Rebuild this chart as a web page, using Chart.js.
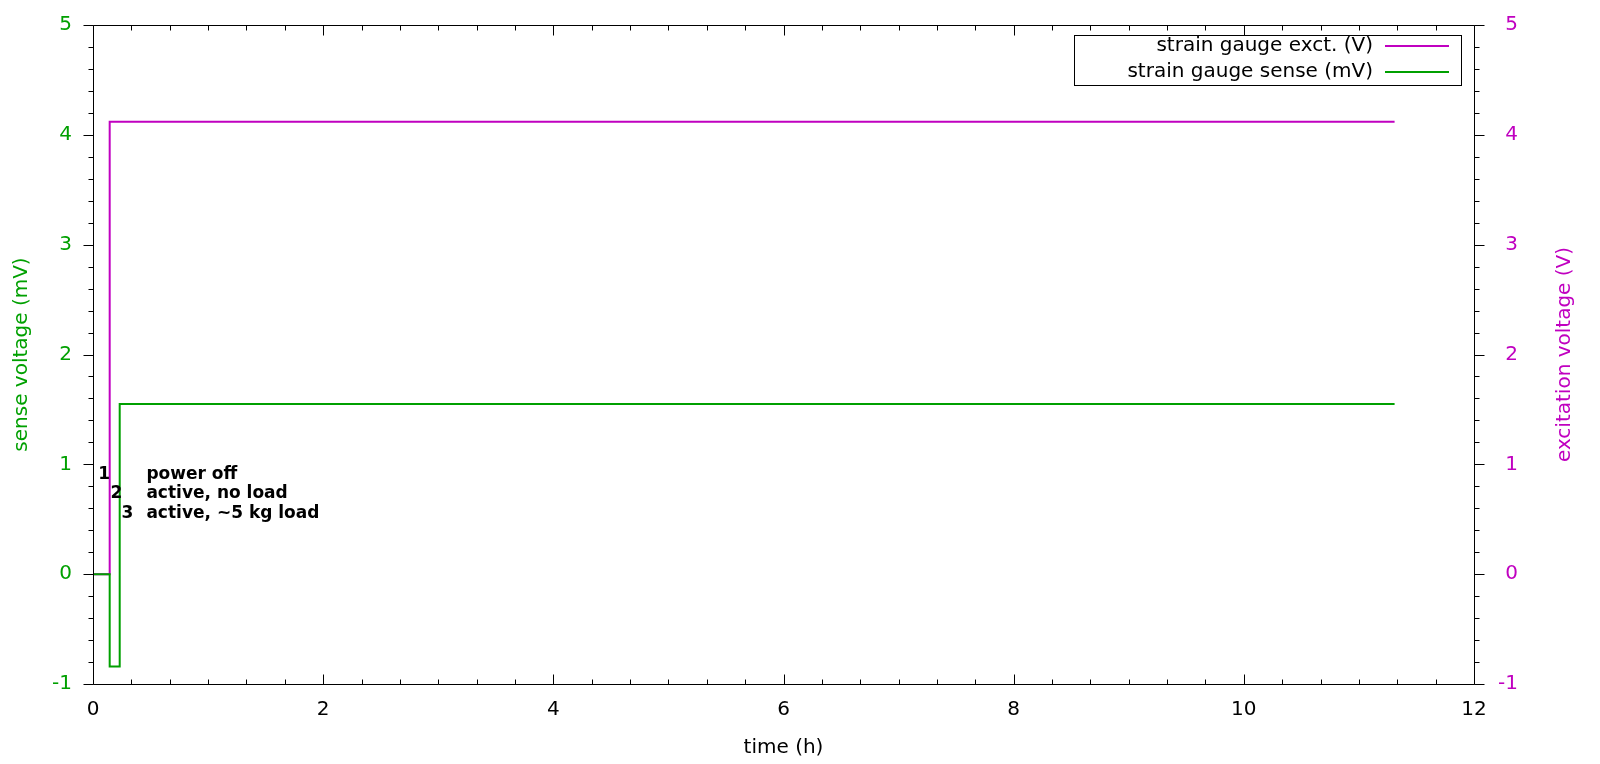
<!DOCTYPE html>
<html>
<head>
<meta charset="utf-8">
<script src="https://cdn.jsdelivr.net/npm/chart.js@4.4.1/dist/chart.umd.min.js"></script>
<style>
  html, body { margin: 0; padding: 0; background: #fff; }
  #wrap { width: 1600px; height: 764px; }
</style>
</head>
<body>
<div id="wrap"><canvas id="strainChart"></canvas></div>
<script>
// step traces (time in hours)
const senseTime = [0, 0.145, 0.232, 11.31];
const senseMv   = [0, -0.84, 1.55, 1.55];
const exctTime  = [0, 0.145, 11.31];
const exctV     = [0, 4.12, 4.12];

const xTicks  = [0, 2, 4, 6, 8, 10, 12];
const yTicks  = [-1, 0, 1, 2, 3, 4, 5];
const y2Ticks = [-1, 0, 1, 2, 3, 4, 5];

const noteNums  = ['1', '2', '3'];
const noteTexts = ['power off', 'active, no load', 'active, ~5 kg load'];

const GREEN = '#00a000';
const MAGENTA = '#c000c0';
const FONT = 'DejaVu Sans';

Chart.defaults.font.family = FONT;

// where the annotation labels sit (data coords)
const noteNumX = [0.097, 0.203, 0.299];
const noteRowY = [0.91, 0.73, 0.555];
const noteTextX = 0.464;

const framePlugin = {
  id: 'frame',
  afterDraw(chart) {
    const c = chart.ctx;
    const a = chart.chartArea;
    const xs = chart.scales.x, ys = chart.scales.y;
    const L = Math.round(a.left) + 0.5, R = Math.round(a.right) + 0.5;
    const T = Math.round(a.top) + 0.5, B = Math.round(a.bottom) + 0.5;
    c.save();
    c.strokeStyle = '#000';
    c.lineWidth = 1;
    c.beginPath();
    c.rect(L, T, R - L, B - T);
    // x ticks, inward, bottom and top
    for (let k = 0; k <= 36; k++) {
      const px = Math.round(xs.getPixelForValue(k / 3)) + 0.5;
      const len = k % 6 === 0 ? 10 : 5;
      c.moveTo(px, B); c.lineTo(px, B - len);
      c.moveTo(px, T); c.lineTo(px, T + len);
    }
    // y ticks, outward, left and right
    for (let k = 0; k <= 30; k++) {
      const py = Math.round(ys.getPixelForValue(-1 + k * 0.2)) + 0.5;
      const len = k % 5 === 0 ? 10 : 5;
      c.moveTo(L, py); c.lineTo(L - len, py);
      c.moveTo(R, py); c.lineTo(R + len, py);
    }
    c.stroke();

    // legend
    const bx = 1074.5, by = 35.5, bw = 387, bh = 50;
    c.fillStyle = '#fff';
    c.fillRect(bx, by, bw, bh);
    c.strokeRect(bx, by, bw, bh);
    const rows = [
      { label: 'strain gauge exct. (V)', color: MAGENTA, y: 46 },
      { label: 'strain gauge sense (mV)', color: GREEN, y: 72 }
    ];
    c.font = '20px "' + FONT + '"';
    c.textAlign = 'right';
    c.textBaseline = 'middle';
    rows.forEach(r => {
      c.fillStyle = '#000';
      c.fillText(r.label, 1373, r.y);
      c.strokeStyle = r.color;
      c.lineWidth = 2;
      c.beginPath();
      c.moveTo(1385, r.y); c.lineTo(1449, r.y);
      c.stroke();
    });

    // annotations
    c.fillStyle = '#000';
    c.font = 'bold 17px "' + FONT + '"';
    noteNums.forEach((n, i) => {
      const py = ys.getPixelForValue(noteRowY[i]);
      c.textAlign = 'center';
      c.fillText(n, xs.getPixelForValue(noteNumX[i]), py);
      c.textAlign = 'left';
      c.fillText(noteTexts[i], xs.getPixelForValue(noteTextX), py);
    });

    // right axis title, reading upward like gnuplot
    c.fillStyle = MAGENTA;
    c.font = '20px "' + FONT + '"';
    c.textAlign = 'center';
    c.translate(1565, (a.top + a.bottom) / 2);
    c.rotate(-Math.PI / 2);
    c.fillText('excitation voltage (V)', 0, 0);
    c.restore();
  }
};

new Chart(document.getElementById('strainChart'), {
  type: 'line',
  data: {
    datasets: [
      {
        label: 'strain gauge exct. (V)',
        data: exctTime.map((t, i) => ({ x: t, y: exctV[i] })),
        yAxisID: 'y2',
        borderColor: MAGENTA,
        borderWidth: 2,
        pointRadius: 0,
        stepped: 'before',
        order: 1
      },
      {
        label: 'strain gauge sense (mV)',
        data: senseTime.map((t, i) => ({ x: t, y: senseMv[i] })),
        yAxisID: 'y',
        borderColor: GREEN,
        borderWidth: 2,
        pointRadius: 0,
        stepped: 'before',
        order: 0
      }
    ]
  },
  options: {
    responsive: true,
    maintainAspectRatio: false,
    animation: false,
    devicePixelRatio: 1,
    layout: { padding: { top: 15, right: 82, left: 0, bottom: 0 } },
    plugins: {
      legend: { display: false },
      tooltip: { enabled: false }
    },
    scales: {
      x: {
        type: 'linear',
        min: 0,
        max: 12,
        afterBuildTicks: s => { s.ticks = xTicks.map(v => ({ value: v })); },
        ticks: { color: '#000', font: { size: 20 }, padding: 6, maxRotation: 0 },
        grid: { display: false },
        border: { display: false },
        title: { display: true, text: 'time (h)', color: '#000', font: { size: 20 }, padding: { top: 0, bottom: 4 } },
        afterFit: s => { s.height = 80; }
      },
      y: {
        position: 'left',
        min: -1,
        max: 5,
        afterBuildTicks: s => { s.ticks = yTicks.map(v => ({ value: v })); },
        ticks: { color: GREEN, font: { size: 20 }, padding: 13 },
        grid: { display: false },
        border: { display: false },
        title: { display: true, text: 'sense voltage (mV)', color: GREEN, font: { size: 20 }, padding: { top: 10, bottom: 0 } },
        afterFit: s => { s.width = 93; }
      },
      y2: {
        position: 'right',
        min: -1,
        max: 5,
        afterBuildTicks: s => { s.ticks = y2Ticks.map(v => ({ value: v })); },
        ticks: { color: MAGENTA, font: { size: 20 }, crossAlign: 'far' },
        grid: { display: false },
        border: { display: false },
        afterFit: s => { s.width = 44; }
      }
    }
  },
  plugins: [framePlugin]
});
</script>
</body>
</html>
